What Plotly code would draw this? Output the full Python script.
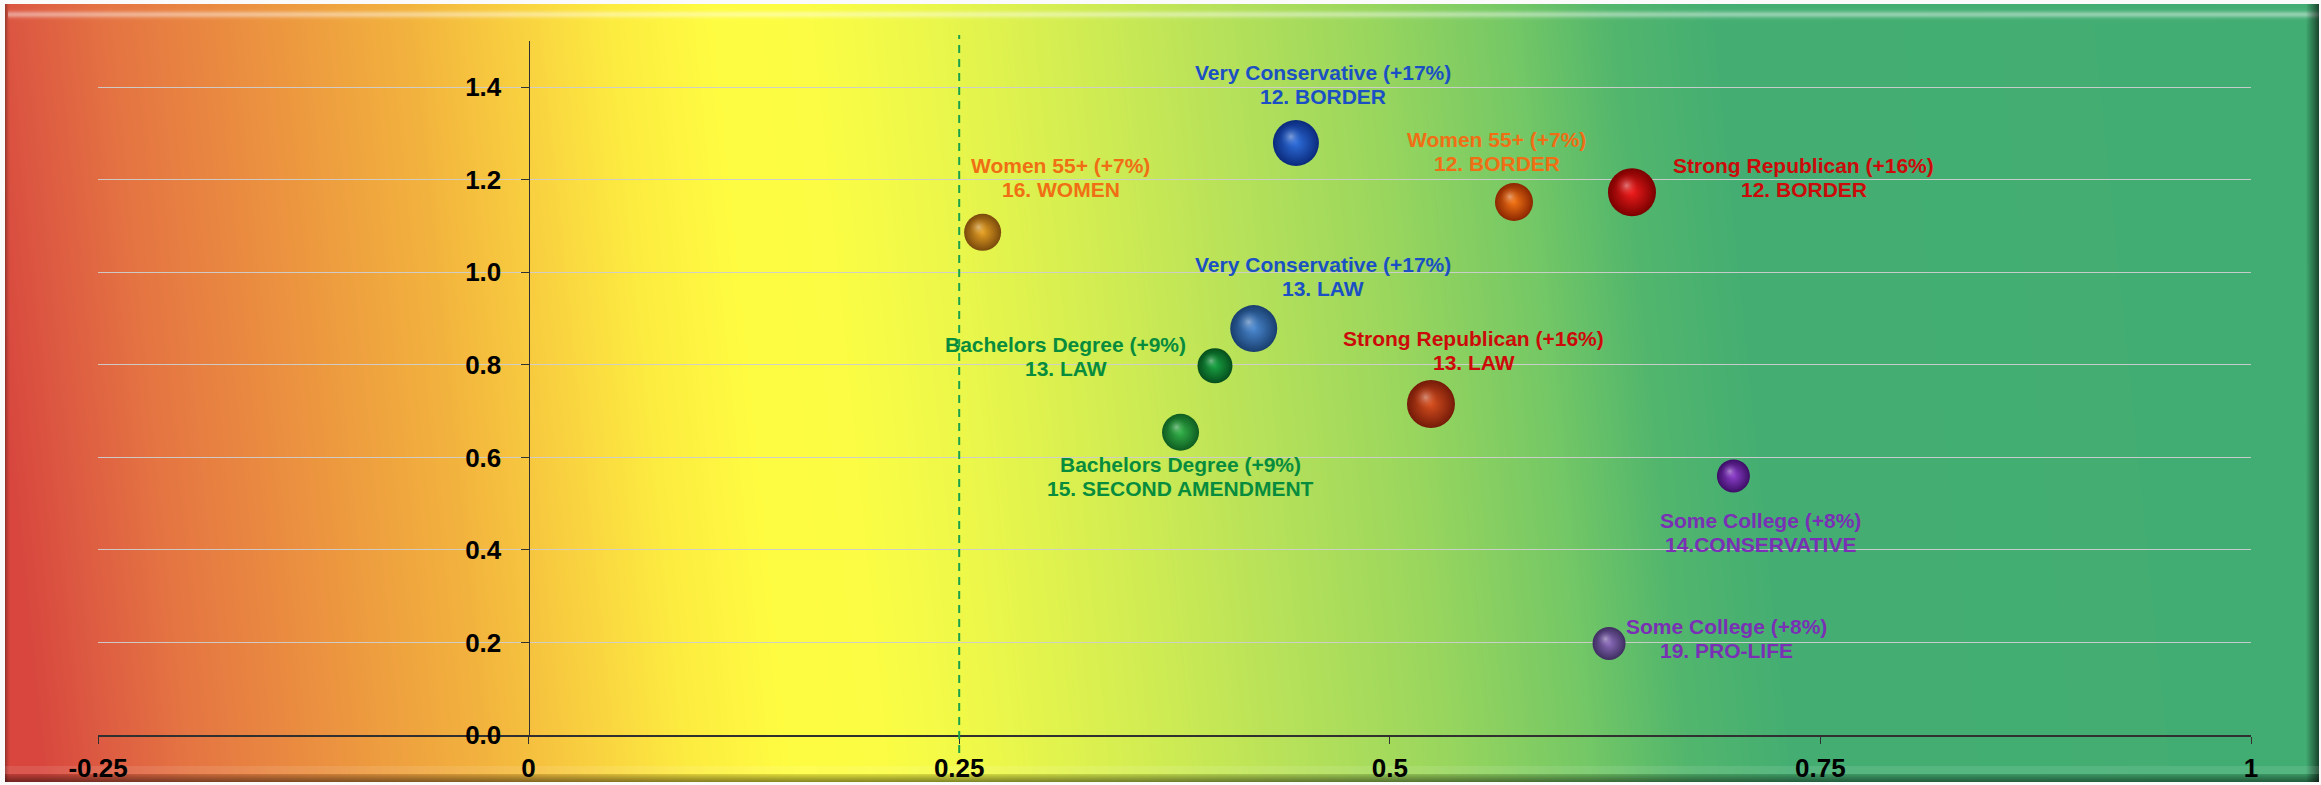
import base64
import struct
import zlib

import numpy as np
import plotly.graph_objects as go

# ---------------- data ----------------
groups = ["Very Conservative (+17%)", "Women 55+ (+7%)", "Women 55+ (+7%)",
          "Strong Republican (+16%)", "Very Conservative (+17%)", "Bachelors Degree (+9%)",
          "Strong Republican (+16%)", "Bachelors Degree (+9%)", "Some College (+8%)",
          "Some College (+8%)"]
issues = ["12. BORDER", "12. BORDER", "16. WOMEN", "12. BORDER", "13. LAW", "13. LAW",
          "13. LAW", "15. SECOND AMENDMENT", "14.CONSERVATIVE", "19. PRO-LIFE"]
x_vals = [0.4455, 0.5721, 0.2636, 0.6406, 0.4210, 0.3985, 0.5239, 0.3785, 0.6995, 0.6273]
y_vals = [1.2795, 1.152, 1.0865, 1.173, 0.8784, 0.798, 0.7154, 0.6543, 0.5599, 0.198]
bubble_size = [46, 38, 37, 48, 47, 35, 48, 37, 33, 33]
threshold_x = 0.25
x_ticks = [-0.25, 0, 0.25, 0.5, 0.75, 1]
x_tick_text = ["-0.25", "0", "0.25", "0.5", "0.75", "1"]
y_ticks = [0, 0.2, 0.4, 0.6, 0.8, 1.0, 1.2, 1.4]
y_tick_text = ["0.0", "0.2", "0.4", "0.6", "0.8", "1.0", "1.2", "1.4"]

# ---------------- styles ----------------
W, H = 2321, 785
ML, MR, MT, MB = 98, 70, 41, 50
PW, PH = W - ML - MR, H - MT - MB
X_RANGE = [-0.25, 1.0]
Y_RANGE = [0.0, 1.5]
FONT = "Liberation Sans, Arial, sans-serif"

BLUE, ORANGE, RED, GREEN, PURPLE = "#1a50c4", "#f06e14", "#cc0a0a", "#078c3e", "#7a30b4"
text_colors = [BLUE, ORANGE, ORANGE, RED, BLUE, GREEN, RED, GREEN, PURPLE, PURPLE]
ball_base = ["#2f6fdc", "#f57515", "#e8a224", "#f01c1c", "#4c8ad2", "#1aa444",
             "#d8501f", "#34b24a", "#8e40cc", "#8c6cbc"]
ball_rim = ["#0a2a7c", "#8a2600", "#7a4a0c", "#7a0000", "#183e6e", "#054e1c",
            "#741a08", "#0e5c20", "#3c0e66", "#3e2e60"]
# label block centre offsets (px) relative to bubble centre
label_dx = [27, -17, 78, 172, 69, -149, 43, 0, 27, 117]
label_dy = [59, 51, 55, 15, 52, 9, 54, -44, -57, 5]
LINE_GAP = 12


# ---------------- background image (gradient + bevel frame) ----------------
def hex_rgb(h):
    h = h.lstrip("#")
    return [int(h[i:i + 2], 16) for i in (0, 2, 4)]


stops = [(0, "#d8463e"), (60, "#dd5a42"), (150, "#e57543"), (300, "#ec9440"),
         (450, "#f3b43e"), (550, "#f9d040"), (650, "#fdec40"), (750, "#fffc42"),
         (850, "#fbfd44"), (950, "#eef84a"), (1100, "#d4ee52"), (1250, "#b8e25a"),
         (1400, "#9bd75e"), (1550, "#74c866"), (1650, "#52b66d"), (1750, "#45af72"),
         (2321, "#42ad73")]
sx = np.array([s[0] for s in stops], dtype=float)
sc = np.array([hex_rgb(s[1]) for s in stops], dtype=float)
cols = np.arange(W, dtype=float)
rows = np.arange(H, dtype=float)
T = cols[None, :] + 40 - 80 * (rows[:, None] / (H - 1))
img = np.stack([np.interp(T, sx, sc[:, k]) for k in range(3)], axis=-1)

# left dark edge
for i, f in enumerate([0.72, 0.8, 0.88, 0.94, 0.98]):
    img[:, 5 + i, :] *= f
# top highlight band
for r in range(6, 24):
    p = 0.42 * np.exp(-((r - 14) / 3.2) ** 2)
    img[r, 8:, :] = img[r, 8:, :] * (1 - p) + 255 * p
# right dark edge
rf = np.linspace(0.97, 0.42, 2319 - 2306)
for i, f in enumerate(rf):
    img[:, 2306 + i, :] *= f
# bottom bevel
for r in range(766, 774):
    img[r, :, :] = img[r, :, :] * 0.9 + 255 * 0.1
bf = np.linspace(0.85, 0.55, 782 - 774)
for i, f in enumerate(bf):
    img[774 + i, :, :] *= f
# outer white
img[:4, :, :] = 250
img[:, :5, :] = 250
img[:, 2319:, :] = 250
img[782:, :, :] = 250
img = np.clip(img, 0, 255).astype(np.uint8)


def png_uri(a):
    h, w, _ = a.shape
    raw = np.concatenate([np.zeros((h, 1), np.uint8), a.reshape(h, w * 3)], axis=1).tobytes()

    def chunk(t, d):
        c = struct.pack(">I", len(d)) + t + d
        return c + struct.pack(">I", zlib.crc32(t + d) & 0xffffffff)

    png = b"\x89PNG\r\n\x1a\n" + chunk(b"IHDR", struct.pack(">IIBBBBB", w, h, 8, 2, 0, 0, 0)) \
        + chunk(b"IDAT", zlib.compress(raw, 9)) + chunk(b"IEND", b"")
    return "data:image/png;base64," + base64.b64encode(png).decode()


bg_uri = png_uri(img)

# ---------------- figure ----------------
fig = go.Figure()

# main balls: radial gradient bright centre -> dark rim
fig.add_trace(go.Scatter(
    x=x_vals, y=y_vals, mode="markers", hoverinfo="skip", showlegend=False,
    marker=dict(size=bubble_size, sizemode="diameter", color=ball_rim,
                gradient=dict(type="radial", color=ball_base),
                line=dict(width=0), opacity=1),
))

# specular highlights (offset up-left by a fraction of the radius)
px_per_x = PW / (X_RANGE[1] - X_RANGE[0])
px_per_y = PH / (Y_RANGE[1] - Y_RANGE[0])
hx = [xv - 0.22 * s / 2 / px_per_x for xv, s in zip(x_vals, bubble_size)]
hy = [yv + 0.28 * s / 2 / px_per_y for yv, s in zip(y_vals, bubble_size)]
hl_edge = ["rgba(%d,%d,%d,0)" % tuple(hex_rgb(c)) for c in ball_base]
fig.add_trace(go.Scatter(
    x=hx, y=hy, mode="markers", hoverinfo="skip", showlegend=False,
    marker=dict(size=[s * 0.5 for s in bubble_size], color=hl_edge,
                gradient=dict(type="radial", color="rgba(255,255,255,0.6)"),
                line=dict(width=0)),
))

annotations = []
for g, iss, xv, yv, c, dx, dy in zip(groups, issues, x_vals, y_vals, text_colors,
                                      label_dx, label_dy):
    for txt, off in ((g, LINE_GAP), (iss, -LINE_GAP)):
        annotations.append(dict(
            x=xv, y=yv, xref="x", yref="y", text="<b>%s</b>" % txt, showarrow=False,
            xshift=dx, yshift=dy + off, xanchor="center", yanchor="middle",
            font=dict(family=FONT, size=21, color=c)))

# dashed threshold line (in paper coords so it can run past the axis)
tx_paper = (threshold_x - X_RANGE[0]) / (X_RANGE[1] - X_RANGE[0])
shapes = [dict(type="line", xref="paper", yref="paper", x0=tx_paper, x1=tx_paper,
               y0=-18 / PH, y1=1 + 6 / PH, layer="above",
               line=dict(color="#19a24a", width=2, dash="8px,6px"))]

TICKFONT = dict(family=FONT, size=26, color="black", weight="bold")

fig.update_layout(
    width=W, height=H, autosize=False,
    margin=dict(l=ML, r=MR, t=MT, b=MB, pad=0, autoexpand=False),
    paper_bgcolor="white", plot_bgcolor="rgba(0,0,0,0)",
    showlegend=False,
    annotations=annotations,
    shapes=shapes,
    images=[dict(source=bg_uri, xref="paper", yref="paper", x=-ML / PW, y=1 + MT / PH,
                 sizex=W / PW, sizey=H / PH, xanchor="left", yanchor="top",
                 sizing="stretch", layer="below")],
    xaxis=dict(range=X_RANGE, tickvals=x_ticks, ticktext=x_tick_text, showgrid=False,
               zeroline=False, showline=True, linecolor="#303030", linewidth=1.5,
               ticks="outside", ticklen=7, tickwidth=1.2, tickcolor="#303030",
               tickfont=TICKFONT, ticklabelstandoff=2, automargin=False),
    yaxis=dict(range=Y_RANGE, tickvals=y_ticks, ticktext=y_tick_text, showgrid=True,
               gridcolor="rgba(205,205,205,0.95)", gridwidth=1.3, zeroline=False,
               showline=True, linecolor="#303030", linewidth=1.2, anchor="free",
               position=(0 - X_RANGE[0]) / (X_RANGE[1] - X_RANGE[0]),
               ticks="outside", ticklen=8, tickwidth=1.2, tickcolor="#303030",
               tickfont=TICKFONT, ticklabelstandoff=14, automargin=False),
    font=dict(family=FONT),
)

fig.write_html("out.html", config={"displayModeBar": False},
               post_script="document.body.style.margin='0';"
                           "document.body.style.overflow='hidden';")
